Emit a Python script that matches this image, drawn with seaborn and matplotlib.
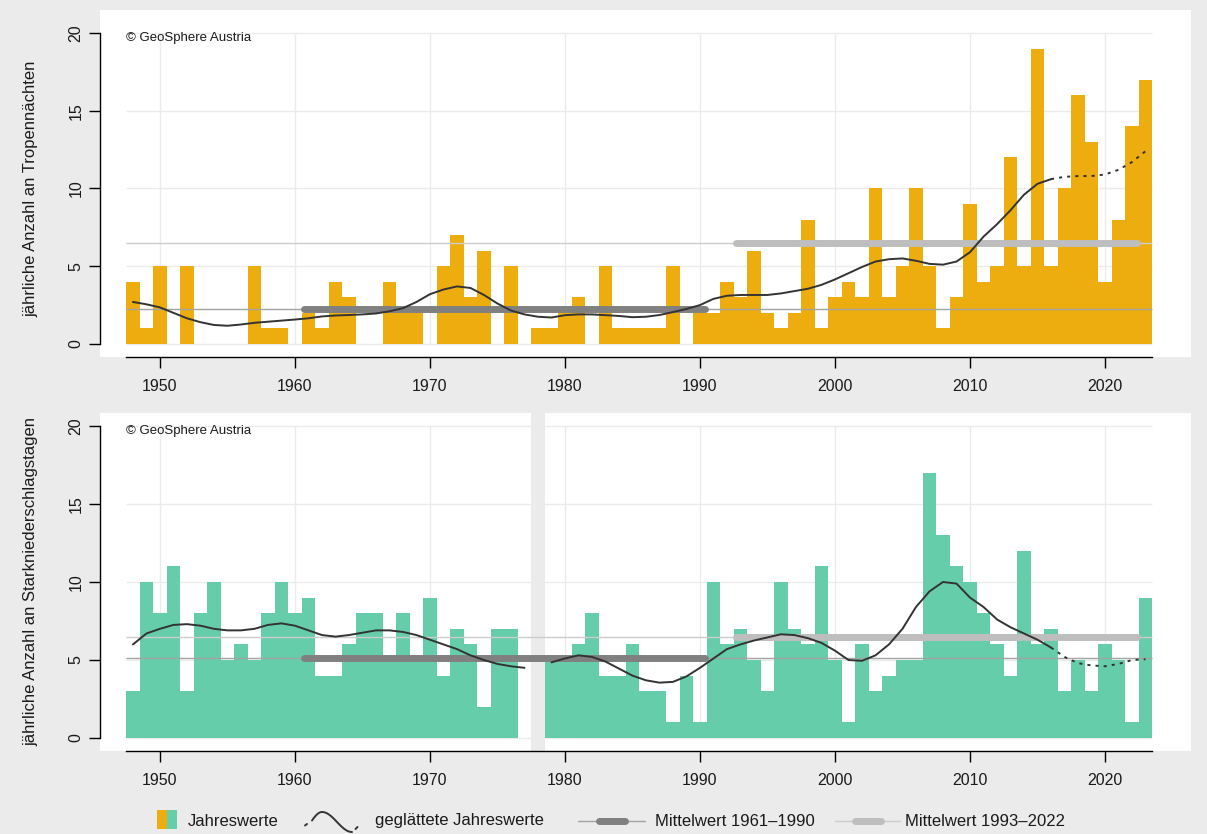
import numpy as np
import pandas as pd
import seaborn as sns
import matplotlib
matplotlib.use("Agg")
import matplotlib.pyplot as plt
from matplotlib.patches import Rectangle

sns.set_style("white")
plt.rcParams['font.family'] = ['Liberation Sans', 'DejaVu Sans']

# -------------------- data --------------------
years = list(range(1948, 2024))

# jährliche Anzahl an Tropennächten
tropen = [4, 1, 5, 0, 5, 0, 0, 0, 0, 5, 1, 1, 0, 2, 1, 4, 3, 0, 0, 4,
          2, 2, 0, 5, 7, 3, 6, 0, 5, 0, 1, 1, 2, 3, 0, 5, 1, 1, 1, 1,
          5, 0, 2, 2, 4, 3, 6, 2, 1, 2, 8, 1, 3, 4, 3, 10, 3, 5, 10, 5,
          1, 3, 9, 4, 5, 12, 5, 19, 5, 10, 16, 13, 4, 8, 14, 17]
tropen_smooth = [2.7, 2.55, 2.35, 2.0, 1.65, 1.4, 1.22, 1.17, 1.25, 1.36,
                 1.43, 1.5, 1.57, 1.65, 1.77, 1.83, 1.86, 1.9, 1.96, 2.1,
                 2.3, 2.7, 3.2, 3.5, 3.7, 3.6, 3.15, 2.6, 2.15, 1.9,
                 1.75, 1.7, 1.85, 1.9, 1.9, 1.85, 1.8, 1.72, 1.75, 1.86,
                 2.05, 2.25, 2.5, 2.9, 3.1, 3.15, 3.15, 3.15, 3.25, 3.4,
                 3.55, 3.8, 4.15, 4.55, 4.95, 5.3, 5.45, 5.5, 5.35, 5.15,
                 5.1, 5.3, 5.9, 6.9, 7.7, 8.6, 9.6, 10.3, 10.6, 10.75,
                 10.8, 10.8, 10.9, 11.2, 11.7, 12.4]

# jährliche Anzahl an Starkniederschlagstagen (1978 fehlt)
stark = [3, 10, 8, 11, 3, 8, 10, 5, 6, 5, 8, 10, 8, 9, 4, 4, 6, 8, 8, 5,
         8, 5, 9, 4, 7, 6, 2, 7, 7, 0, np.nan, 5, 5, 6, 8, 4, 4, 6, 3, 3,
         1, 4, 1, 10, 6, 7, 5, 3, 10, 7, 6, 11, 5, 1, 6, 3, 4, 5, 5, 17,
         13, 11, 10, 8, 6, 4, 12, 6, 7, 3, 5, 3, 6, 5, 1, 9]
stark_smooth = [6.0, 6.7, 7.0, 7.25, 7.3, 7.2, 7.0, 6.9, 6.9, 7.0,
                7.25, 7.35, 7.2, 6.9, 6.6, 6.5, 6.6, 6.75, 6.9, 6.9,
                6.8, 6.6, 6.3, 6.0, 5.7, 5.3, 5.0, 4.75, 4.6, 4.5,
                np.nan, 4.85, 5.1, 5.3, 5.2, 4.9, 4.45, 4.0, 3.7, 3.55,
                3.6, 3.95, 4.5, 5.1, 5.7, 6.0, 6.25, 6.45, 6.65, 6.6,
                6.4, 6.1, 5.6, 5.0, 4.95, 5.3, 6.0, 7.0, 8.4, 9.4,
                10.0, 9.9, 9.0, 8.4, 7.6, 7.1, 6.7, 6.3, 5.8, 5.2,
                4.8, 4.65, 4.6, 4.75, 5.0, 5.05]

missing_years = [1978]
ref_period = (1961, 1990)
recent_period = (1993, 2022)
dotted_from = 2016

ORANGE = "#EEAD0E"
GREEN = "#66CDAA"
BG = "#EBEBEB"
DARK = "#333333"
TXT = "#1a1a1a"

W, H = 1207, 834
fig = plt.figure(figsize=(W / 100, H / 100), dpi=100, facecolor=BG)


def px_axes(l, t, r, b):
    return fig.add_axes([l / W, 1 - b / H, (r - l) / W, (b - t) / H])


def draw_panel(ax, values, smooth, color, ylabel, ylim):
    df = pd.DataFrame({'year': years, 'value': values, 'smooth': smooth})
    ax.set_facecolor('white')

    # grid only inside the data range
    ax.hlines([0, 5, 10, 15, 20], 1947.5, 2023.5, color=BG, lw=1, zorder=0)
    ax.vlines(range(1950, 2021, 10), 0, 20, color=BG, lw=1, zorder=0)

    for yr in missing_years:
        if df.loc[df.year == yr, 'value'].isna().all():
            ax.axvspan(yr - 0.5, yr + 0.5, color=BG, lw=0, zorder=1)

    sns.barplot(data=df.dropna(subset=['value']), x='year', y='value',
                native_scale=True, width=1, color=color, saturation=1,
                errorbar=None, linewidth=0, antialiased=False, ax=ax, zorder=2)

    m1 = df.loc[df.year.between(*ref_period), 'value'].mean()
    m2 = df.loc[df.year.between(*recent_period), 'value'].mean()
    ax.hlines([m2], 1947.5, 2023.5, color="#cccccc", lw=1, zorder=3)
    ax.hlines([m1], 1947.5, 2023.5, color="#a3a3a3", lw=1, zorder=3)
    ax.plot([ref_period[0] - 0.3, ref_period[1] + 0.35], [m1, m1],
            color="#808080", lw=5, solid_capstyle='round', zorder=4)
    ax.plot([recent_period[0] - 0.3, recent_period[1] + 0.35], [m2, m2],
            color="#bebebe", lw=5, solid_capstyle='round', zorder=4)

    # smoothed series: solid part split at gaps, dotted tail
    solid = df[df.year <= dotted_from].copy()
    solid['seg'] = solid['smooth'].isna().cumsum()
    for _, seg in solid.dropna(subset=['smooth']).groupby('seg'):
        sns.lineplot(data=seg, x='year', y='smooth', color=DARK, lw=1.4,
                     ax=ax, zorder=5)
    tail = df[df.year >= dotted_from]
    sns.lineplot(data=tail, x='year', y='smooth', color=DARK, lw=1.4,
                 linestyle=(0, (1.6, 2.6)), ax=ax, zorder=5)

    ax.text(1947.5, 19.7, "© GeoSphere Austria", fontsize=9.5, color=TXT,
            ha='left', va='center', zorder=6)

    ax.set_xlim(1945.56, 2026.37)
    ax.set_ylim(*ylim)
    for s in ['top', 'right']:
        ax.spines[s].set_visible(False)
    for s in ['left', 'bottom']:
        ax.spines[s].set_color('black')
        ax.spines[s].set_linewidth(1)
    ax.spines['left'].set_bounds(0, 20)
    ax.spines['bottom'].set_bounds(1947.5, 2023.5)

    ax.set_xticks(range(1950, 2021, 10))
    ax.set_xticklabels([str(y) for y in range(1950, 2021, 10)])
    ax.set_yticks([0, 5, 10, 15, 20])
    ax.set_yticklabels(['0', '5', '10', '15', '20'], rotation=90, va='center')
    ax.tick_params(axis='both', direction='out', length=8, width=1,
                   labelsize=11.5, color='black', labelcolor=TXT,
                   bottom=True, left=True)
    ax.tick_params(axis='x', pad=8)
    ax.tick_params(axis='y', pad=4)

    ax.set_xlabel('')
    ax.set_ylabel(ylabel, fontsize=12, color=TXT)
    yfrac = (10 - ylim[0]) / (ylim[1] - ylim[0])
    ax.yaxis.set_label_coords((38 - 100) / 1091, yfrac)


ax_top = px_axes(100, 10, 1191, 357)
ax_bot = px_axes(100, 413, 1191, 751)

draw_panel(ax_top, tropen, tropen_smooth, ORANGE,
           "jährliche Anzahl an Tropennächten", (-0.84, 21.48))
draw_panel(ax_bot, stark, stark_smooth, GREEN,
           "jährliche Anzahl an Starkniederschlagstagen", (-0.83, 20.83))

# -------------------- legend strip --------------------
lax = fig.add_axes([0, 0, 1, 40 / H])
lax.set_xlim(0, W)
lax.set_ylim(0, 40)
lax.axis('off')

lax.add_patch(Rectangle((157, 5), 10, 19, color=ORANGE, lw=0))
lax.add_patch(Rectangle((167, 5), 10, 19, color=GREEN, lw=0))
lax.text(188, 13, "Jahreswerte", fontsize=12, color=TXT, va='center')

cx = np.linspace(312, 352, 60)
theta = np.interp(cx, [312, 322, 352], [0.15, np.pi / 2, 1.5 * np.pi])
lax.plot(cx, 12 + 10 * np.sin(theta), color=DARK, lw=1.4)
lax.plot([305, 307], [8.5, 10], color=DARK, lw=1.4)
lax.plot([355.5, 357.5], [5, 7], color=DARK, lw=1.4)
lax.text(375, 13, "geglättete Jahreswerte", fontsize=12, color=TXT, va='center')

lax.plot([578, 645], [13, 13], color="#a3a3a3", lw=1)
lax.plot([599, 625], [13, 13], color="#808080", lw=5, solid_capstyle='round')
lax.text(655, 13, "Mittelwert 1961–1990", fontsize=12, color=TXT, va='center')

lax.plot([835, 900], [13, 13], color="#cccccc", lw=1)
lax.plot([855, 881], [13, 13], color="#bebebe", lw=5, solid_capstyle='round')
lax.text(905, 13, "Mittelwert 1993–2022", fontsize=12, color=TXT, va='center')

fig.savefig("out.png", dpi=100, facecolor=fig.get_facecolor())
